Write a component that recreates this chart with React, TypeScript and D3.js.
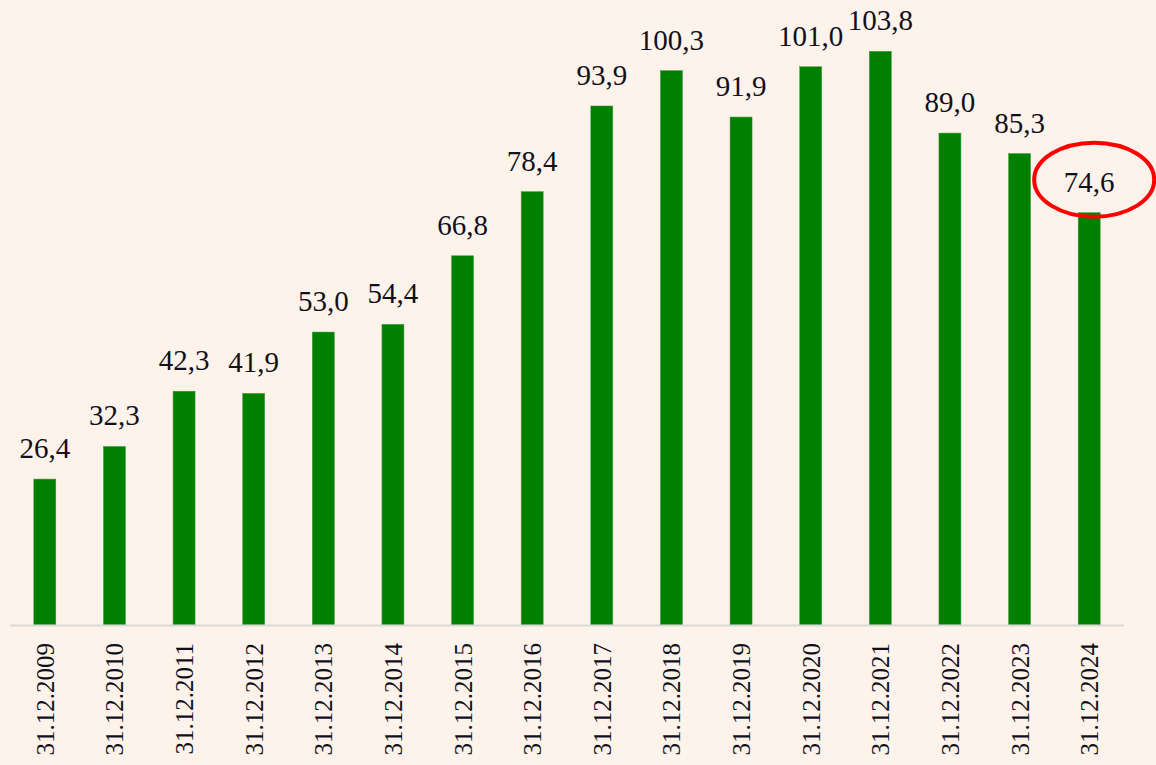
import React from "react";
import * as d3 from "d3";

// values
const categories = [
  "31.12.2009", "31.12.2010", "31.12.2011", "31.12.2012", "31.12.2013", "31.12.2014",
  "31.12.2015", "31.12.2016", "31.12.2017", "31.12.2018", "31.12.2019", "31.12.2020",
  "31.12.2021", "31.12.2022", "31.12.2023", "31.12.2024",
];
const values = [26.4, 32.3, 42.3, 41.9, 53.0, 54.4, 66.8, 78.4, 93.9, 100.3, 91.9, 101.0, 103.8, 89.0, 85.3, 74.6];
const highlighted = "31.12.2024";

const W = 1156;
const H = 765;
const baseY = 625;
const fmt = (v: number) => v.toFixed(1).replace(".", ",");

export default function App() {
  const x = d3.scaleBand().domain(categories).range([10, 1124]).paddingInner(0.684).paddingOuter(0.342);
  const y = d3.scaleLinear().domain([0, 110]).range([baseY, baseY - 608]);
  const bw = x.bandwidth();

  return (
    <div style={{ position: "fixed", left: 0, top: 0 }}>
      <svg width={W} height={H} style={{ display: "block", fontFamily: "'Liberation Serif', 'Times New Roman', serif" }}>
        <rect width={W} height={H} fill="#fdf3eb" />
        {categories.map((c, i) => (
          <rect key={c} x={x(c)} y={y(values[i])} width={bw} height={baseY - y(values[i])}
            fill="#008000" stroke="#3f9a3f" strokeWidth={0.5} />
        ))}
        <line x1={10} x2={1124} y1={baseY + 0.5} y2={baseY + 0.5} stroke="#d9d9d9" strokeWidth={2} />
        {categories.map((c, i) => (
          <text key={"v" + c} x={x(c)! + bw / 2} y={y(values[i]) - 21} textAnchor="middle"
            fontSize={29} fill="#10101c">{fmt(values[i])}</text>
        ))}
        {categories.map((c) => (
          <text key={"l" + c} transform={`translate(${x(c)! + bw / 2 + 9},${baseY + 18}) rotate(-90)`}
            textAnchor="end" fontSize={25} fill="#10101c">{c}</text>
        ))}
        {(() => {
          const i = categories.indexOf(highlighted);
          return (
            <ellipse cx={x(highlighted)! + bw / 2 + 5} cy={y(values[i]) - 33} rx={60} ry={37}
              fill="none" stroke="#ff0000" strokeWidth={4} />
          );
        })()}
      </svg>
    </div>
  );
}
